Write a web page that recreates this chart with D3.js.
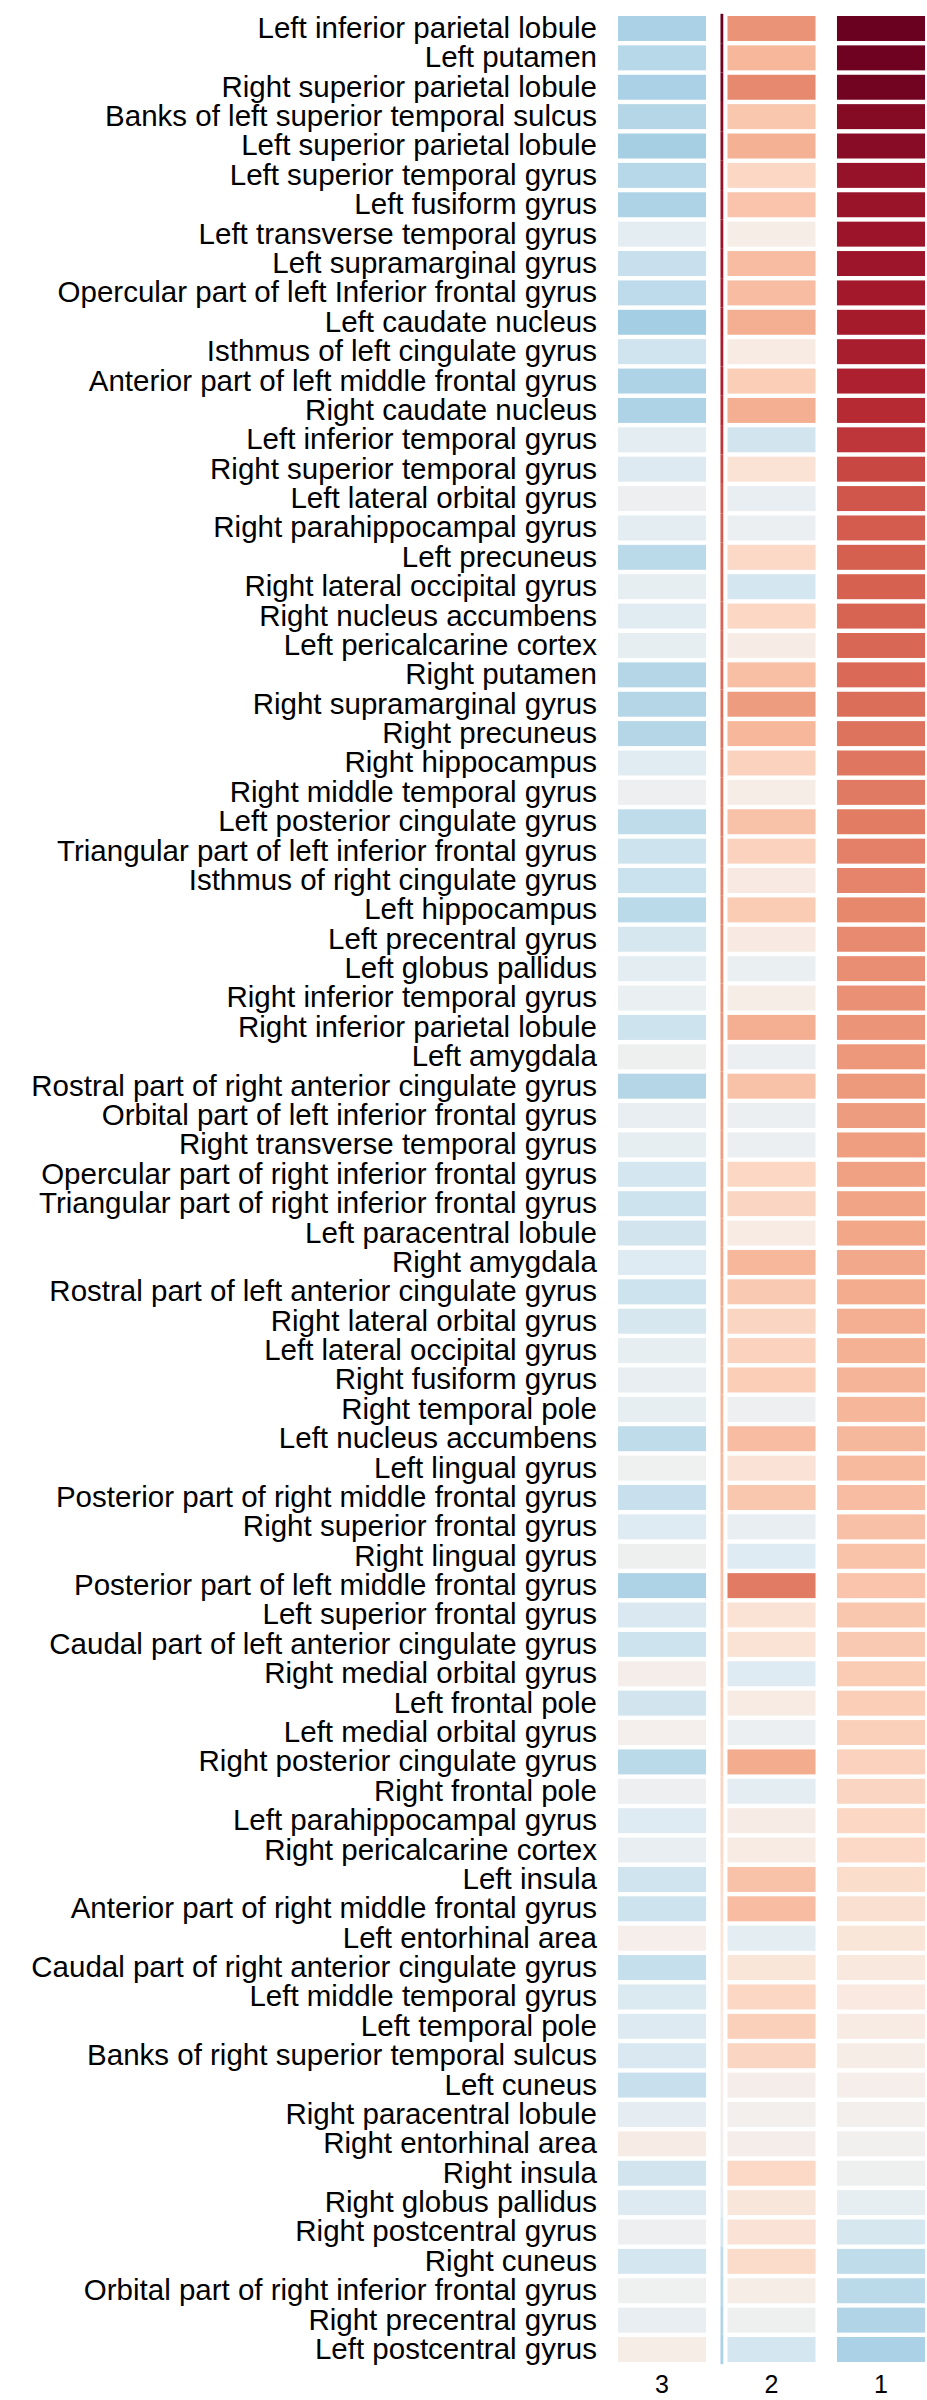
<!DOCTYPE html>
<html>
<head>
<meta charset="utf-8">
<script src="https://cdn.jsdelivr.net/npm/d3@7"></script>
<style>
  html, body { margin: 0; padding: 0; background: #ffffff; }
  svg { display: block; }
  text { font-family: "Liberation Sans", Arial, Helvetica, sans-serif; fill: #000; }
</style>
</head>
<body>
<svg id="chart" width="927" height="2400"></svg>
<script>
// Brain regions, ordered by the component-1 weight
const regions = [
  "Left inferior parietal lobule",
  "Left putamen",
  "Right superior parietal lobule",
  "Banks of left superior temporal sulcus",
  "Left superior parietal lobule",
  "Left superior temporal gyrus",
  "Left fusiform gyrus",
  "Left transverse temporal gyrus",
  "Left supramarginal gyrus",
  "Opercular part of left Inferior frontal gyrus",
  "Left caudate nucleus",
  "Isthmus of left cingulate gyrus",
  "Anterior part of left middle frontal gyrus",
  "Right caudate nucleus",
  "Left inferior temporal gyrus",
  "Right superior temporal gyrus",
  "Left lateral orbital gyrus",
  "Right parahippocampal gyrus",
  "Left precuneus",
  "Right lateral occipital gyrus",
  "Right nucleus accumbens",
  "Left pericalcarine cortex",
  "Right putamen",
  "Right supramarginal gyrus",
  "Right precuneus",
  "Right hippocampus",
  "Right middle temporal gyrus",
  "Left posterior cingulate gyrus",
  "Triangular part of left inferior frontal gyrus",
  "Isthmus of right cingulate gyrus",
  "Left hippocampus",
  "Left precentral gyrus",
  "Left globus pallidus",
  "Right inferior temporal gyrus",
  "Right inferior parietal lobule",
  "Left amygdala",
  "Rostral part of right anterior cingulate gyrus",
  "Orbital part of left inferior frontal gyrus",
  "Right transverse temporal gyrus",
  "Opercular part of right inferior frontal gyrus",
  "Triangular part of right inferior frontal gyrus",
  "Left paracentral lobule",
  "Right amygdala",
  "Rostral part of left anterior cingulate gyrus",
  "Right lateral orbital gyrus",
  "Left lateral occipital gyrus",
  "Right fusiform gyrus",
  "Right temporal pole",
  "Left nucleus accumbens",
  "Left lingual gyrus",
  "Posterior part of right middle frontal gyrus",
  "Right superior frontal gyrus",
  "Right lingual gyrus",
  "Posterior part of left middle frontal gyrus",
  "Left superior frontal gyrus",
  "Caudal part of left anterior cingulate gyrus",
  "Right medial orbital gyrus",
  "Left frontal pole",
  "Left medial orbital gyrus",
  "Right posterior cingulate gyrus",
  "Right frontal pole",
  "Left parahippocampal gyrus",
  "Right pericalcarine cortex",
  "Left insula",
  "Anterior part of right middle frontal gyrus",
  "Left entorhinal area",
  "Caudal part of right anterior cingulate gyrus",
  "Left middle temporal gyrus",
  "Left temporal pole",
  "Banks of right superior temporal sulcus",
  "Left cuneus",
  "Right paracentral lobule",
  "Right entorhinal area",
  "Right insula",
  "Right globus pallidus",
  "Right postcentral gyrus",
  "Right cuneus",
  "Orbital part of right inferior frontal gyrus",
  "Right precentral gyrus",
  "Left postcentral gyrus"
];

// Column order and labels
const components = ["3", "2", "1"];

// Weights per component, one value per region (same order as regions)
const comp1 = [
  0.99, 0.98, 0.97, 0.92, 0.91, 0.87, 0.86, 0.855, 0.85, 0.83,
  0.82, 0.81, 0.80, 0.76, 0.72, 0.67, 0.63, 0.61, 0.60, 0.595,
  0.59, 0.58, 0.57, 0.56, 0.545, 0.535, 0.525, 0.515, 0.505, 0.495,
  0.485, 0.475, 0.465, 0.455, 0.445, 0.435, 0.43, 0.42, 0.415, 0.405,
  0.395, 0.385, 0.38, 0.37, 0.36, 0.35, 0.34, 0.335, 0.325, 0.32,
  0.31, 0.295, 0.285, 0.28, 0.27, 0.26, 0.25, 0.24, 0.23, 0.22,
  0.21, 0.20, 0.19, 0.17, 0.15, 0.12, 0.10, 0.09, 0.07, 0.05,
  0.03, 0.01, -0.01, -0.03, -0.08, -0.16, -0.25, -0.27, -0.30, -0.32
];
const comp2 = [
  0.45, 0.33, 0.48, 0.27, 0.35, 0.20, 0.28, 0.05, 0.31, 0.31,
  0.36, 0.07, 0.24, 0.36, -0.18, 0.14, -0.07, -0.05, 0.19, -0.17,
  0.20, 0.06, 0.30, 0.42, 0.33, 0.22, 0.05, 0.29, 0.22, 0.08,
  0.25, 0.08, -0.06, 0.05, 0.36, -0.05, 0.29, -0.05, -0.05, 0.20,
  0.21, 0.07, 0.33, 0.26, 0.21, 0.22, 0.24, -0.04, 0.31, 0.13,
  0.27, -0.07, -0.12, 0.52, 0.14, 0.14, -0.12, 0.07, -0.05, 0.37,
  -0.10, 0.06, 0.07, 0.29, 0.31, -0.10, 0.12, 0.20, 0.23, 0.21,
  0.04, 0.01, 0.04, 0.19, 0.11, 0.13, 0.18, 0.05, -0.03, -0.17
];
const comp3 = [
  -0.32, -0.28, -0.32, -0.29, -0.33, -0.28, -0.31, -0.10, -0.22, -0.26,
  -0.34, -0.19, -0.31, -0.31, -0.10, -0.13, -0.04, -0.10, -0.27, -0.08,
  -0.11, -0.08, -0.29, -0.29, -0.29, -0.11, -0.04, -0.25, -0.20, -0.21,
  -0.27, -0.16, -0.10, -0.06, -0.20, -0.03, -0.29, -0.07, -0.08, -0.17,
  -0.20, -0.18, -0.12, -0.20, -0.16, -0.08, -0.07, -0.08, -0.25, -0.02,
  -0.22, -0.12, -0.03, -0.31, -0.15, -0.20, 0.04, -0.18, 0.02, -0.27,
  -0.04, -0.12, -0.07, -0.19, -0.20, 0.03, -0.23, -0.14, -0.13, -0.15,
  -0.22, -0.09, 0.06, -0.18, -0.13, -0.04, -0.17, -0.02, -0.07, 0.05
];

const valuesByComponent = { "1": comp1, "2": comp2, "3": comp3 };

const svg = d3.select("#chart");
const width = 927, height = 2400;

svg.append("rect").attr("width", width).attr("height", height).attr("fill", "#ffffff");

const x = d3.scaleBand()
  .domain(components)
  .range([618, 925])
  .paddingInner(0.196)
  .paddingOuter(0);

const y = d3.scaleBand()
  .domain(regions)
  .range([16, 2362])
  .paddingInner(0.15)
  .paddingOuter(0);

const color = d3.scaleDiverging(d3.interpolateRdBu).domain([1, 0, -1]);

// Flatten into cells
const cells = [];
components.forEach(c => {
  valuesByComponent[c].forEach((v, i) => {
    cells.push({ comp: c, region: regions[i], value: v });
  });
});

svg.append("g")
  .selectAll("rect")
  .data(cells)
  .join("rect")
  .attr("x", d => x(d.comp))
  .attr("y", d => y(d.region))
  .attr("width", x.bandwidth())
  .attr("height", y.bandwidth())
  .attr("fill", d => color(d.value));

// Narrow marker strip on the left edge of column 2, keyed to component 1
const gap = y.step() - y.bandwidth();
svg.append("g")
  .selectAll("rect")
  .data(comp1.map((v, i) => ({ region: regions[i], value: v })))
  .join("rect")
  .attr("x", x("2") - 7)
  .attr("y", d => y(d.region) - gap / 2)
  .attr("width", 2.8)
  .attr("height", y.step())
  .attr("fill", d => color(d.value));

// Region labels
const yAxis = svg.append("g")
  .attr("transform", `translate(${x("3")},0)`)
  .call(d3.axisLeft(y).tickSize(0).tickPadding(21));
yAxis.select(".domain").remove();
yAxis.selectAll("text")
  .attr("font-size", 29.5)
  .attr("font-family", "'Liberation Sans', Arial, Helvetica, sans-serif")
  .attr("fill", "#000");

// Component labels
const xAxis = svg.append("g")
  .attr("transform", `translate(0,${y.range()[1]})`)
  .call(d3.axisBottom(x).tickSize(0).tickPadding(13));
xAxis.select(".domain").remove();
xAxis.selectAll("text")
  .attr("font-size", 25)
  .attr("font-family", "'Liberation Sans', Arial, Helvetica, sans-serif")
  .attr("fill", "#000");
</script>
</body>
</html>
